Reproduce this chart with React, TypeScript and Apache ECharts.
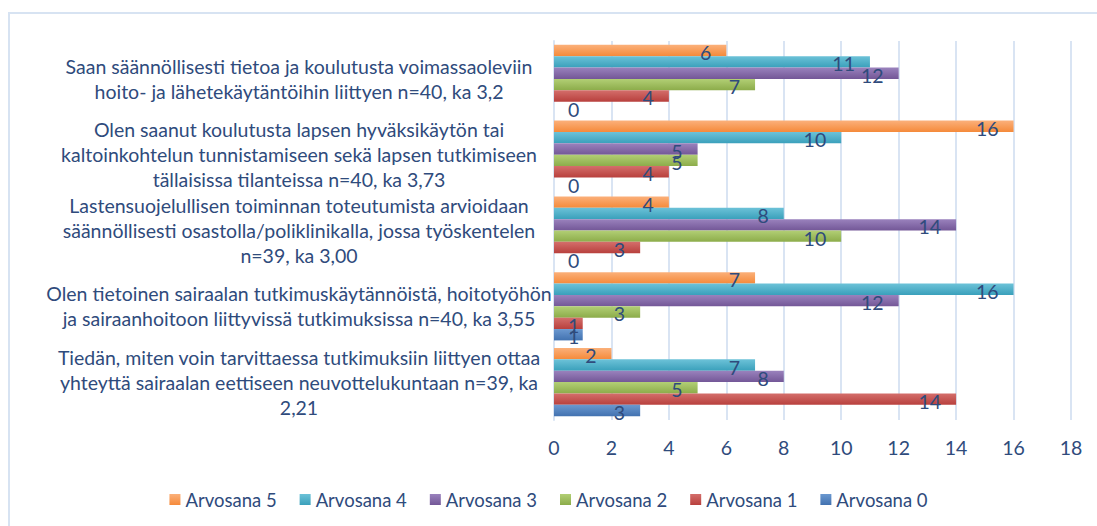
import React, { useEffect, useRef } from "react";
import * as echarts from "echarts";

const categories = [
  "Saan säännöllisesti tietoa ja koulutusta voimassaoleviin\nhoito- ja lähetekäytäntöihin liittyen n=40, ka 3,2",
  "Olen saanut koulutusta lapsen hyväksikäytön tai\nkaltoinkohtelun tunnistamiseen sekä lapsen tutkimiseen\ntällaisissa tilanteissa n=40, ka 3,73",
  "Lastensuojelullisen toiminnan toteutumista arvioidaan\nsäännöllisesti osastolla/poliklinikalla, jossa työskentelen\nn=39, ka 3,00",
  "Olen tietoinen sairaalan tutkimuskäytännöistä, hoitotyöhön\nja sairaanhoitoon liittyvissä tutkimuksissa n=40, ka 3,55",
  "Tiedän, miten voin tarvittaessa tutkimuksiin liittyen ottaa\nyhteyttä sairaalan eettiseen neuvottelukuntaan n=39, ka\n2,21",
];

const seriesNames = ["Arvosana 5", "Arvosana 4", "Arvosana 3", "Arvosana 2", "Arvosana 1", "Arvosana 0"];

const arvosana5 = [6, 16, 4, 7, 2];
const arvosana4 = [11, 10, 8, 16, 7];
const arvosana3 = [12, 5, 14, 12, 8];
const arvosana2 = [7, 5, 10, 3, 5];
const arvosana1 = [4, 4, 3, 1, 14];
const arvosana0 = [0, 0, 0, 1, 3];

const xTicks = { min: 0, max: 18, interval: 2 };

const seriesValues = [arvosana5, arvosana4, arvosana3, arvosana2, arvosana1, arvosana0];
const colors = [
  ["#fbb07a", "#f58a3a"],
  ["#6cc2d8", "#3aa0bb"],
  ["#9a82bd", "#735797"],
  ["#b2cf75", "#8cac4a"],
  ["#d46e6b", "#b8403d"],
  ["#6b98d0", "#4272b0"],
];

const TEXT = "#2f4b7c";
const FONT = "Lato, 'Open Sans', sans-serif";
const FS = 19.5;

export default function App() {
  const ref = useRef<HTMLDivElement>(null);
  useEffect(() => {
    if (!ref.current) return;
    const chart = echarts.init(ref.current, null, { renderer: "svg" });
    chart.setOption({
      animation: false,
      backgroundColor: "#ffffff",
      textStyle: { fontFamily: FONT },
      graphic: [
        { type: "line", shape: { x1: 8, y1: 13, x2: 1097, y2: 13 }, style: { stroke: "#d7e3f2", lineWidth: 2 } },
        { type: "line", shape: { x1: 9, y1: 13, x2: 9, y2: 526 }, style: { stroke: "#d7e3f2", lineWidth: 2 } },
      ],
      legend: {
        data: seriesNames,
        bottom: 12,
        left: "center",
        icon: "rect",
        itemWidth: 11,
        itemHeight: 11,
        itemGap: 23,
        textStyle: { color: TEXT, fontSize: 18.5, fontFamily: FONT },
      },
      grid: { left: 554, right: 26, top: 41, bottom: 106, containLabel: false },
      xAxis: {
        type: "value",
        min: xTicks.min,
        max: xTicks.max,
        interval: xTicks.interval,
        axisLine: { show: false },
        axisTick: { show: false },
        axisLabel: { color: TEXT, fontSize: FS, margin: 17, fontFamily: FONT },
        splitLine: { show: true, lineStyle: { color: "#d9e4f3", width: 2 } },
      },
      yAxis: {
        type: "category",
        inverse: true,
        data: categories,
        axisLine: { show: true, lineStyle: { color: "#d9e4f3", width: 2 } },
        axisTick: { show: false },
        axisLabel: {
          color: TEXT,
          fontSize: FS,
          fontFamily: FONT,
          align: "center",
          margin: 255,
          lineHeight: 25,
          interval: 0,
        },
      },
      series: seriesNames.map((name, i) => ({
        name,
        type: "bar",
        barGap: "0%",
        barCategoryGap: "10%",
        itemStyle: {
          color: new echarts.graphic.LinearGradient(0, 0, 0, 1, [
            { offset: 0, color: colors[i][0] },
            { offset: 1, color: colors[i][1] },
          ]),
        },
        label: {
          show: true,
          position: "insideRight",
          distance: 15,
          color: TEXT,
          fontSize: FS,
          fontFamily: FONT,
          offset: [0, 2],
        },
        data: seriesValues[i].map((v) =>
          v <= 1
            ? { value: v, label: { position: "insideLeft", distance: 14 } }
            : v
        ),
      })),
    });
    return () => chart.dispose();
  }, []);
  return (
    <div
      ref={ref}
      style={{ position: "fixed", left: 0, top: 0, width: 1097, height: 526 }}
    />
  );
}
